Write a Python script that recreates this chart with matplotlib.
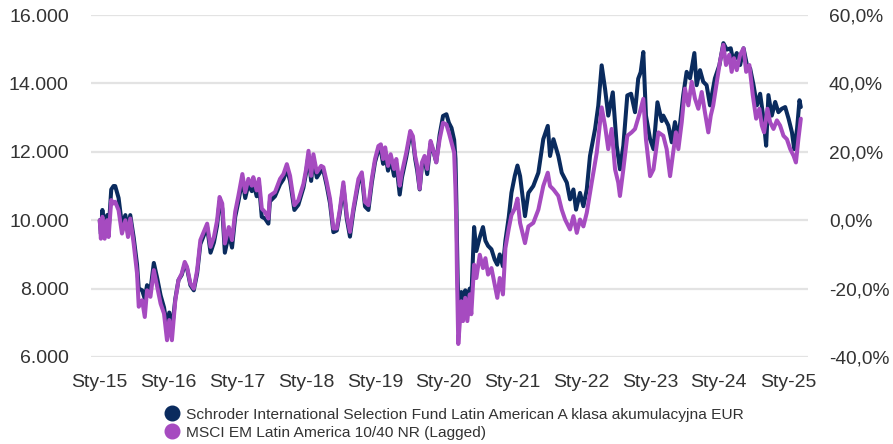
import pandas as pd
import matplotlib
matplotlib.use("Agg")
import matplotlib.pyplot as plt
from matplotlib.lines import Line2D
from matplotlib.ticker import FuncFormatter, FixedLocator

# --- data (index 10.000 = start, Jan 2015) ---
index_dates = [
    "2015-01-02", "2015-01-08", "2015-01-16", "2015-01-28", "2015-02-10", "2015-02-18",
    "2015-03-04", "2015-03-16", "2015-03-25", "2015-04-12", "2015-04-30", "2015-05-18",
    "2015-06-01", "2015-06-13", "2015-07-01", "2015-07-19", "2015-07-28", "2015-08-15",
    "2015-08-29", "2015-09-10", "2015-09-28", "2015-10-16", "2015-11-03", "2015-11-21",
    "2015-12-09", "2015-12-25", "2016-01-06", "2016-01-20", "2016-02-07", "2016-02-24",
    "2016-03-12", "2016-03-28", "2016-04-09", "2016-04-27", "2016-05-15", "2016-06-02",
    "2016-06-19", "2016-07-07", "2016-07-25", "2016-08-12", "2016-08-30", "2016-09-16",
    "2016-09-29", "2016-10-13", "2016-10-27", "2016-11-17", "2016-12-04", "2016-12-21",
    "2017-01-07", "2017-01-28", "2017-02-12", "2017-03-01", "2017-03-19", "2017-03-27",
    "2017-04-14", "2017-04-26", "2017-05-11", "2017-05-28", "2017-06-15", "2017-06-23",
    "2017-07-20", "2017-08-16", "2017-09-03", "2017-09-21", "2017-10-08", "2017-10-31",
    "2017-11-21", "2017-12-18", "2017-12-31", "2018-01-14", "2018-01-28", "2018-02-09",
    "2018-02-27", "2018-03-22", "2018-04-03", "2018-04-21", "2018-05-08", "2018-05-26",
    "2018-06-13", "2018-06-30", "2018-07-18", "2018-08-05", "2018-08-22", "2018-09-09",
    "2018-10-06", "2018-10-24", "2018-11-10", "2018-11-28", "2018-12-16", "2019-01-02",
    "2019-01-20", "2019-02-02", "2019-02-14", "2019-02-25", "2019-03-12", "2019-03-26",
    "2019-04-13", "2019-04-25", "2019-05-13", "2019-05-25", "2019-06-17", "2019-07-08",
    "2019-07-22", "2019-08-03", "2019-08-14", "2019-08-27", "2019-09-08", "2019-09-22",
    "2019-10-06", "2019-10-24", "2019-11-06", "2019-11-23", "2019-12-11", "2019-12-29",
    "2020-01-16", "2020-01-29", "2020-02-12", "2020-02-26", "2020-03-04", "2020-03-09",
    "2020-03-12", "2020-03-16", "2020-03-19", "2020-04-04", "2020-04-13", "2020-04-25",
    "2020-05-06", "2020-05-19", "2020-05-27", "2020-06-11", "2020-06-23", "2020-07-11",
    "2020-07-28", "2020-08-10", "2020-08-24", "2020-09-11", "2020-09-28", "2020-10-12",
    "2020-10-25", "2020-11-11", "2020-11-24", "2020-12-12", "2020-12-26", "2021-01-13",
    "2021-01-27", "2021-02-10", "2021-03-08", "2021-03-26", "2021-04-21", "2021-05-18",
    "2021-06-13", "2021-07-07", "2021-07-19", "2021-08-06", "2021-09-01", "2021-09-19",
    "2021-10-07", "2021-11-02", "2021-11-20", "2021-12-08", "2021-12-25", "2022-01-12",
    "2022-01-30", "2022-02-25", "2022-03-24", "2022-04-19", "2022-05-07", "2022-05-24",
    "2022-06-11", "2022-06-29", "2022-07-16", "2022-07-25", "2022-08-12", "2022-09-02",
    "2022-09-25", "2022-10-13", "2022-11-08", "2022-11-26", "2022-12-10", "2023-01-01",
    "2023-01-19", "2023-02-14", "2023-03-12", "2023-03-30", "2023-04-17", "2023-05-01",
    "2023-05-18", "2023-05-31", "2023-06-18", "2023-07-05", "2023-07-23", "2023-08-10",
    "2023-08-27", "2023-09-14", "2023-10-02", "2023-10-19", "2023-11-06", "2023-11-19",
    "2023-12-02", "2023-12-24", "2024-01-07", "2024-01-25", "2024-02-08", "2024-02-25",
    "2024-03-09", "2024-03-21", "2024-04-05", "2024-04-23", "2024-05-11", "2024-05-25",
    "2024-06-11", "2024-06-29", "2024-07-17", "2024-08-03", "2024-08-16", "2024-08-28",
    "2024-09-15", "2024-09-29", "2024-10-17", "2024-11-04", "2024-11-21", "2024-12-09",
    "2024-12-27", "2025-01-14", "2025-02-01", "2025-02-13", "2025-02-26", "2025-03-11",
]
index_vals = [
    10000, 9460, 10100, 9460, 10000, 9510,
    10590, 10490, 10540, 10290, 9610, 10000,
    9510, 10050, 9320, 8440, 7470, 7660,
    7170, 7950, 7760, 8540, 8050, 7560,
    7270, 6490, 7080, 6490, 7660, 8250,
    8440, 8780, 8640, 8150, 8000, 8540,
    9420, 9660, 9900, 9220, 9510, 10000,
    10680, 10490, 9320, 9800, 9420, 10250,
    10720, 11350, 10820, 11210, 11010, 11260,
    10870, 11210, 10340, 10240, 10050, 10720,
    10820, 11210, 11350, 11640, 11300, 10440,
    10580, 11060, 11450, 12030, 11300, 11930,
    11400, 11590, 11550, 11110, 10630, 9760,
    9760, 10340, 11110, 10150, 9660, 10340,
    11210, 11400, 10530, 10440, 11210, 11790,
    12170, 12220, 11790, 12130, 11590, 11930,
    11500, 11790, 11010, 11400, 11980, 12610,
    12460, 11880, 11590, 10920, 11690, 11880,
    11500, 12320, 12080, 11690, 12370, 12850,
    12800, 12560, 12270, 11980, 10920, 9760,
    8410, 7150, 6380, 7630, 7050, 7730,
    7050, 7830, 7250, 8700, 8310, 8990,
    8600, 8890, 8410, 8600, 8120, 7730,
    8310, 7830, 9180, 9760, 10150, 10340,
    10630, 9920, 9330, 9820, 9920, 10310,
    11000, 11390, 11000, 10900, 10710, 10310,
    10020, 9730, 10120, 9630, 10020, 9820,
    10220, 11100, 11980, 13300, 12760, 12080,
    12670, 11490, 11100, 10710, 11490, 12470,
    12570, 12670, 13160, 13550, 12370, 11290,
    11490, 12570, 12470, 12080, 11290, 11880,
    12570, 12080, 12870, 13850, 13360, 14050,
    13560, 13260, 13750, 13160, 12570, 13060,
    13360, 14150, 14640, 15130, 14540, 14840,
    14340, 14740, 14390, 14840, 15030, 14340,
    14540, 13660, 12970, 13260, 12770, 12570,
    13260, 12870, 12670, 12920, 12770, 12470,
    12370, 12080, 11880, 11690, 12370, 12970,
]

# the fund shares the index's reading dates up to January 2021
fund_dates = index_dates[:145] + [
    "2021-02-10", "2021-03-08", "2021-03-26", "2021-04-21", "2021-05-18", "2021-06-13",
    "2021-07-07", "2021-07-19", "2021-08-06", "2021-09-01", "2021-09-19", "2021-10-16",
    "2021-11-02", "2021-11-20", "2021-12-04", "2021-12-25", "2022-01-12", "2022-01-30",
    "2022-02-16", "2022-03-15", "2022-04-01", "2022-04-19", "2022-05-07", "2022-05-24",
    "2022-06-17", "2022-07-08", "2022-07-25", "2022-08-12", "2022-09-02", "2022-09-22",
    "2022-10-13", "2022-10-30", "2022-11-12", "2022-11-26", "2022-12-10", "2023-01-01",
    "2023-01-19", "2023-02-09", "2023-03-04", "2023-03-12", "2023-04-08", "2023-04-26",
    "2023-05-13", "2023-05-31", "2023-06-26", "2023-07-14", "2023-08-01", "2023-08-24",
    "2023-09-05", "2023-09-23", "2023-10-10", "2023-10-28", "2023-11-15", "2023-12-11",
    "2024-01-04", "2024-01-25", "2024-02-12", "2024-03-04", "2024-03-18", "2024-04-05",
    "2024-04-23", "2024-05-11", "2024-05-29", "2024-06-15", "2024-07-03", "2024-07-21",
    "2024-08-07", "2024-08-25", "2024-09-08", "2024-09-20", "2024-10-08", "2024-10-26",
    "2024-11-12", "2024-11-30", "2024-12-18", "2025-01-05", "2025-01-23", "2025-02-04",
    "2025-02-19", "2025-03-04", "2025-03-11",
]
fund_vals = [
    10000, 9600, 10300, 9650, 10150, 9700,
    10900, 11000, 11000, 10650, 9850, 10150,
    9700, 10150, 9500, 8700, 8000, 7950,
    7700, 8100, 7950, 8750, 8300, 7800,
    7450, 6900, 7300, 6800, 7700, 8250,
    8400, 8700, 8600, 8100, 7950, 8450,
    9300, 9550, 9800, 9050, 9350, 9850,
    10550, 10350, 9050, 9600, 9200, 10100,
    10550, 11200, 10650, 11050, 10850, 11100,
    10700, 11050, 10100, 10050, 9900, 10550,
    10700, 11050, 11200, 11500, 11150, 10300,
    10450, 10950, 11350, 11900, 11150, 11800,
    11250, 11450, 11450, 11000, 10500, 9650,
    9700, 10250, 11000, 10050, 9520, 10250,
    11100, 11300, 10400, 10300, 11100, 11700,
    12050, 12050, 11650, 11950, 11450, 11800,
    11300, 11650, 10750, 11250, 11850, 12500,
    12350, 11800, 11450, 10900, 11600, 11800,
    11350, 12250, 12050, 11700, 12500, 13050,
    13100, 12850, 12700, 12350, 11800, 10500,
    9400, 8200, 7600, 7900, 7700, 7950,
    7650, 8000, 7700, 9800, 9100, 9500,
    9800, 9400, 9250, 9150, 8850, 8700,
    9000, 8650, 9400, 10100, 10800, 11300,
    11600,
    11290, 10120, 10800, 11000, 11390, 12370,
    12760, 11880, 12370, 11880, 11390, 11100,
    10610, 10900, 10310, 10800, 10410, 10900,
    11880, 12670, 13350, 14530, 13840, 13060,
    13740, 12180, 11490, 12180, 13650, 13700,
    13160, 14140, 14330, 14920, 13060, 12370,
    12080, 13450, 12900, 13060, 12770, 12280,
    12870, 12370, 13660, 14340, 14150, 14890,
    13950, 14390, 14050, 13950, 13360, 14150,
    14540, 15180, 14990, 15030, 14640, 14890,
    14540, 15030, 14540, 14440, 13950, 13360,
    13700, 12970, 12180, 13660, 13060, 13460,
    13160, 13260, 13310, 12970, 12570, 12080,
    12670, 13510, 13310,
]

fund_name = "Schroder International Selection Fund Latin American A klasa akumulacyjna EUR"
index_name = "MSCI EM Latin America 10/40 NR (Lagged)"
tick_years = list(range(2015, 2026))
tick_labels = ["Sty-%02d" % (y % 100) for y in tick_years]

NAVY = "#0a2b5e"
PURPLE = "#a64bc0"
TXT = "#333333"

plt.rcParams["font.family"] = ["Liberation Sans", "DejaVu Sans"]

fig = plt.figure(figsize=(8.93, 4.44), dpi=100)
ax = fig.add_axes([0.102, 0.196, 0.803, 0.770])

ax.plot(pd.to_datetime(fund_dates), fund_vals, color=NAVY, lw=2.9,
        solid_joinstyle="round", solid_capstyle="round", zorder=3)
ax.plot(pd.to_datetime(index_dates), index_vals, color=PURPLE, lw=2.9,
        solid_joinstyle="round", solid_capstyle="round", zorder=4)

ax.set_ylim(6000, 16000)
ax.set_yticks(range(6000, 16001, 2000))
ax.yaxis.set_major_formatter(FuncFormatter(lambda v, p: f"{v:,.0f}".replace(",", ".")))
ax.set_xlim(pd.Timestamp("2014-11-17"), pd.Timestamp("2025-04-19"))
ax.xaxis.set_major_locator(FixedLocator(
    [matplotlib.dates.date2num(pd.Timestamp(f"{y}-01-01")) for y in tick_years]))
ax.set_xticklabels(tick_labels)

ax.grid(axis="y", color="#e3e3e3", lw=1.6)
ax.set_axisbelow(True)
for s in ax.spines.values():
    s.set_visible(False)
ax.tick_params(axis="both", length=0, labelsize=14, colors=TXT)
ax.tick_params(axis="y", pad=16)
ax.tick_params(axis="x", pad=12)

sec = ax.secondary_yaxis("right", functions=(lambda v: v / 100 - 100, lambda p: (p + 100) * 100))
sec.set_yticks(range(-40, 61, 20))
sec.yaxis.set_major_formatter(FuncFormatter(lambda v, p: f"{v:.1f}%".replace(".", ",")))
sec.tick_params(length=0, labelsize=13.8, colors=TXT, pad=15)
for s in sec.spines.values():
    s.set_visible(False)

handles = [Line2D([], [], ls="none", marker="o", ms=10.5, color=NAVY),
           Line2D([], [], ls="none", marker="o", ms=10.5, color=PURPLE)]
fig.legend(handles, [fund_name, index_name], loc="upper left",
           bbox_to_anchor=(0.1775, 0.099), frameon=False, fontsize=11.15,
           handlelength=0.7, handletextpad=0.55, labelspacing=0.25,
           borderpad=0, labelcolor=TXT)

fig.savefig("out.png", dpi=100)
